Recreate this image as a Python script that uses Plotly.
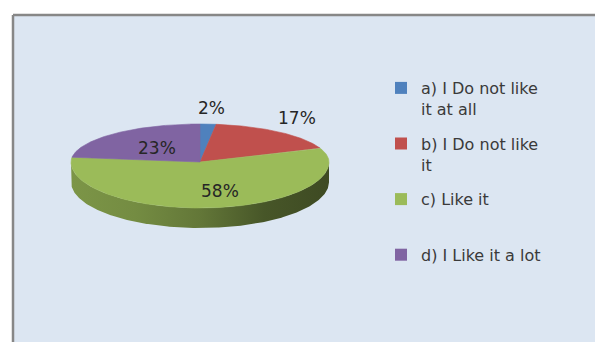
import numpy as np
import plotly.graph_objects as go

# Survey answers and their shares (percent)
categories = ["a) I Do not like it at all", "b) I Do not like it", "c) Like it", "d) I Like it a lot"]
legend_names = ["a) I Do not like<br>it at all", "b) I Do not like<br>it", "c) Like it<br> ", "d) I Like it a lot"]
shares = [2, 17, 58, 23]

# Slice colours (top face) and shading factors for the rim
top_colors = ["#4f81bd", "#c0504d", "#9bbb59", "#8064a2"]
rim_shades = [0.80, 0.75, 0.64, 0.46, 0.40]

# Placement of the percentage labels: radial factor along the slice bisector and pixel nudges
label_radius = [1.42, 1.32, 0.63, 0.5]
label_dx = [0, -7, 10, 0]
label_dy = [0, -4, 0, 0]

# Geometry of the tilted pie, in pixel units of the plotting frame
cx, cy = 200.0, 162.0
rx = 129.0
ry_back, ry_front = 38.0, 46.0
depth = 20.0


def shade(hex_color, f):
    h = hex_color.lstrip("#")
    r, g, b = (int(h[i:i + 2], 16) for i in (0, 2, 4))
    return "rgb({},{},{})".format(int(r * f), int(g * f), int(b * f))


def rim_point(theta_deg, r=1.0):
    t = np.radians(theta_deg)
    ry = ry_back if np.cos(t) >= 0 else ry_front
    return cx + r * rx * np.sin(t), cy - r * ry * np.cos(t)


def arc(a0, a1, n=None):
    n = n or max(4, int(abs(a1 - a0) * 1.5))
    th = np.linspace(a0, a1, n)
    pts = [rim_point(t) for t in th]
    return [p[0] for p in pts], [p[1] for p in pts]


total = float(sum(shares))
bounds = np.concatenate([[0.0], np.cumsum(shares) / total * 360.0])

fig = go.Figure()

# Rim (side walls) of the pie: only the front half, 90..270 deg clockwise from top, faces the viewer
for i, color in enumerate(top_colors):
    lo, hi = max(bounds[i], 90.0), min(bounds[i + 1], 270.0)
    if hi <= lo:
        continue
    xs, ys = arc(lo, hi)
    px = xs + xs[::-1] + [xs[0]]
    py = ys + [y + depth for y in ys[::-1]] + [ys[0]]
    scale = [[k / (len(rim_shades) - 1), shade(color, f)] for k, f in enumerate(rim_shades)]
    fig.add_trace(go.Scatter(
        x=px, y=py, mode="lines", fill="toself",
        line=dict(width=0, color=shade(color, 0.6)),
        fillgradient=dict(type="horizontal", colorscale=scale),
        hoverinfo="skip", showlegend=False,
    ))

# Top faces of the slices
for i, (name, v, color) in enumerate(zip(categories, shares, top_colors)):
    xs, ys = arc(bounds[i], bounds[i + 1])
    fig.add_trace(go.Scatter(
        x=[cx] + xs + [cx], y=[cy] + ys + [cy], mode="lines", fill="toself",
        fillcolor=color, line=dict(width=0.6, color=color),
        name=name, text=f"{v}%", hoverinfo="text+name", showlegend=False,
    ))

# Legend entries with square swatches
for i, (lname, color) in enumerate(zip(legend_names, top_colors)):
    fig.add_trace(go.Scatter(
        x=[None], y=[None], mode="markers", name=lname,
        marker=dict(symbol="square", size=11, color=color),
        legendgroup=f"g{i}", showlegend=True,
    ))

# Percentage labels
for i, v in enumerate(shares):
    mid = (bounds[i] + bounds[i + 1]) / 2.0
    lx, ly = rim_point(mid, label_radius[i])
    fig.add_annotation(
        x=lx + label_dx[i], y=ly + label_dy[i], text=f"{v}%", showarrow=False,
        font=dict(family="DejaVu Sans", size=17, color="#262626"),
        xanchor="center", yanchor="middle",
    )

# Chart frame: light blue area with grey left and top edges
frame_x0, frame_y1 = 13 / 595, 1 - 15 / 342
fig.add_shape(
    type="rect", xref="paper", yref="paper",
    x0=frame_x0, x1=1.0, y0=0.0, y1=frame_y1,
    fillcolor="#dce6f2", line=dict(width=0), layer="below",
)
fig.add_shape(
    type="line", xref="paper", yref="paper",
    x0=frame_x0, x1=1.0, y0=frame_y1, y1=frame_y1,
    line=dict(color="#878787", width=2.5), layer="below",
)
fig.add_shape(
    type="line", xref="paper", yref="paper",
    x0=frame_x0, x1=frame_x0, y0=0.0, y1=frame_y1,
    line=dict(color="#878787", width=2.5), layer="below",
)

fig.update_layout(
    width=595, height=342,
    margin=dict(l=0, r=0, t=0, b=0),
    paper_bgcolor="white", plot_bgcolor="rgba(0,0,0,0)",
    xaxis=dict(range=[0, 595], visible=False, fixedrange=True),
    yaxis=dict(range=[342, 0], visible=False, fixedrange=True),
    showlegend=True,
    legend=dict(
        x=381 / 595, y=1 - 71 / 342, xanchor="left", yanchor="top",
        bgcolor="rgba(0,0,0,0)", traceorder="grouped", tracegroupgap=11,
        valign="top", itemsizing="constant",
        font=dict(family="DejaVu Sans", size=16, color="#3a3a3a"),
    ),
)

fig.write_html("out.html")
